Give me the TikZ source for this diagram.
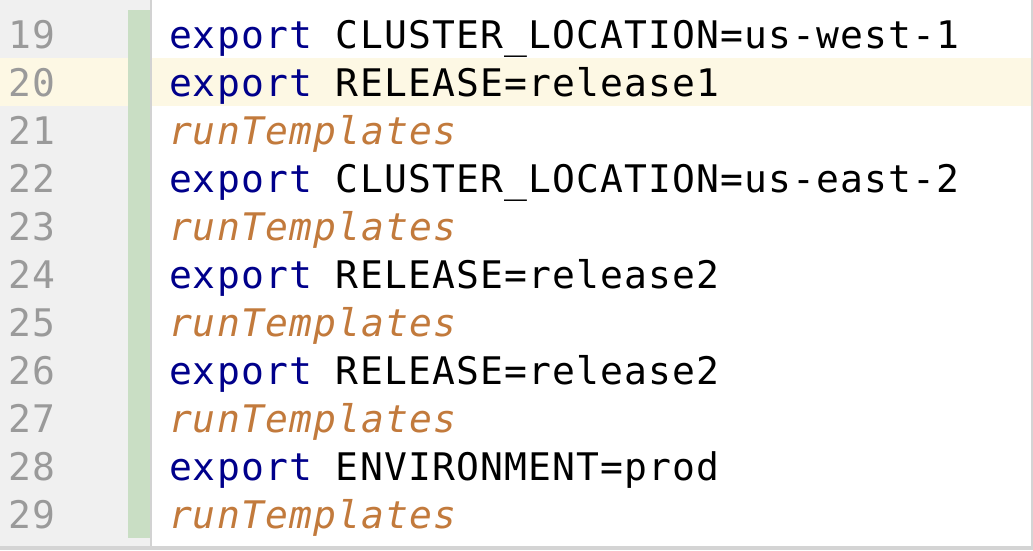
\documentclass[tikz,border=0pt]{standalone}
\usepackage{fontspec}
\newfontfamily\codefont[LetterSpace=3]{DejaVu Sans Mono}
\definecolor{gutterbg}{HTML}{F0F0F0}
\definecolor{gutterline}{HTML}{D2D2D2}
\definecolor{changebar}{HTML}{C9DEC4}
\definecolor{hiliterow}{HTML}{FDF8E4}
\definecolor{lnum}{HTML}{9A9A9A}
\definecolor{kwblue}{HTML}{00008B}
\definecolor{fnorange}{HTML}{C27A3C}
\definecolor{edgegray}{HTML}{D4D4D4}
\begin{document}
\begin{tikzpicture}[x=1pt,y=-1pt,
  txt/.style={anchor=base west,inner sep=0pt,outer sep=0pt,font=\codefont\fontsize{38}{38}\selectfont},
  numtxt/.style={txt,text=lnum},
  kw/.style={txt,text=kwblue},
  plain/.style={txt,text=black},
  fn/.style={txt,text=fnorange,font=\codefont\fontsize{38}{38}\selectfont\itshape}]
\useasboundingbox (0,0) rectangle (1033,550);
\fill[white] (0,0) rectangle (1033,550);
% gutter
\fill[gutterbg] (0,0) rectangle (150,550);
% highlighted row (line 20)
\fill[hiliterow] (0,58) rectangle (128,106);
\fill[hiliterow] (152,58) rectangle (1031,106);
% change bar
\fill[changebar] (128,10) rectangle (150,538);
% gutter separator
\fill[gutterline] (150,0) rectangle (152,550);
% right and bottom edges
\fill[edgegray] (1031,0) rectangle (1033,550);
\fill[edgegray] (0,546) rectangle (1033,550);
% line numbers
\foreach \n [count=\i from 0] in {19,...,29} {
  \node[numtxt] (ln\n) at (9,48+48*\i) {\n};
}
% code
\node[kw] (k19) at (169,48) {export};
\node[plain] (t19) at (k19.base east) {\ CLUSTER\_LOCATION=us-west-1};
\node[kw] (k20) at (169,96) {export};
\node[plain] (t20) at (k20.base east) {\ RELEASE=release1};
\node[fn] (f21) at (169,144) {runTemplates};
\node[kw] (k22) at (169,192) {export};
\node[plain] (t22) at (k22.base east) {\ CLUSTER\_LOCATION=us-east-2};
\node[fn] (f23) at (169,240) {runTemplates};
\node[kw] (k24) at (169,288) {export};
\node[plain] (t24) at (k24.base east) {\ RELEASE=release2};
\node[fn] (f25) at (169,336) {runTemplates};
\node[kw] (k26) at (169,384) {export};
\node[plain] (t26) at (k26.base east) {\ RELEASE=release2};
\node[fn] (f27) at (169,432) {runTemplates};
\node[kw] (k28) at (169,480) {export};
\node[plain] (t28) at (k28.base east) {\ ENVIRONMENT=prod};
\node[fn] (f29) at (169,528) {runTemplates};
\end{tikzpicture}
\end{document}
